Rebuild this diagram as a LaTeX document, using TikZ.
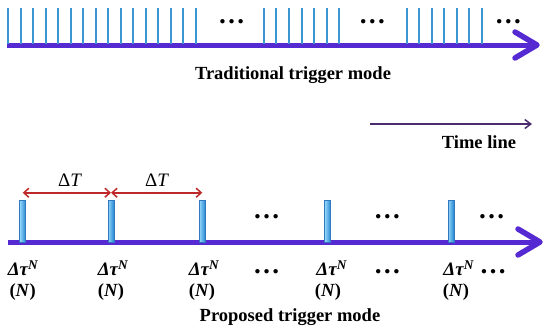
\documentclass[tikz,border=0pt]{standalone}
\usepackage{fontspec}
\setmainfont{Liberation Serif}
\usetikzlibrary{arrows.meta,calc}
\definecolor{axiscol}{RGB}{85,42,210}
\definecolor{spikecol}{RGB}{60,150,210}
\definecolor{barlight}{RGB}{150,215,250}
\definecolor{bardark}{RGB}{35,135,210}
\definecolor{barline}{RGB}{50,120,190}
\definecolor{redcol}{RGB}{190,40,40}
\definecolor{tlcol}{RGB}{75,45,110}
\tikzset{
  axisline/.style={axiscol, line width=5pt},
  axishead/.style={axiscol, line width=5.5pt, line cap=round, line join=round},
  spike/.style={spikecol, line width=2pt},
  bar/.style={draw=barline, line width=0.5pt, left color=barlight, right color=bardark,
              minimum width=6pt, minimum height=42pt, inner sep=0pt},
  dT/.style={redcol, line width=1.5pt, {Straight Barb[length=5pt,width=9pt]}-{Straight Barb[length=5pt,width=9pt]}},
  lbl/.style={font=\fontsize{18.5}{22}\selectfont\bfseries, inner sep=0pt},
  dts/.style={font=\fontsize{19}{22}\selectfont, inner sep=0pt},
  dots/.style={font=\fontsize{27}{28}\selectfont\bfseries, inner sep=0pt},
  tau/.style={font=\fontsize{19}{22}\selectfont\bfseries\itshape, inner sep=0pt},
}
\begin{document}
\begin{tikzpicture}[x=1pt,y=-1pt]
\useasboundingbox (0,0) rectangle (550,335);
% ---------- traditional ----------
\coordinate (t0) at (7,45);
\coordinate (t1) at (537,45);
\draw[axisline] (t0) -- ($(t1)+(-3,0)$);
\draw[axishead] ($(t1)+(-22,-13)$) -- (t1) -- ($(t1)+(-22,13)$);
\foreach \x in {8.3,20.8,...,197} \draw[spike] (\x,8) -- (\x,44);
\foreach \x in {263.7,276.3,...,340} \draw[spike] (\x,8) -- (\x,44);
\foreach \x in {406.7,419.2,...,483} \draw[spike] (\x,8) -- (\x,44);
\node[dots] (d1) at (231.7,22) {…};
\node[dots] (d2) at (372.3,22) {…};
\node[dots] (d3) at (508.3,22) {…};
\node[lbl] (trad) at (293,75) {Traditional trigger mode};
% ---------- time line ----------
\coordinate (tl0) at (370,124);
\coordinate (tl1) at (532,124);
\draw[tlcol, line width=1.5pt, -{Straight Barb[length=6pt,width=9pt]}] (tl0) -- (tl1);
\node[lbl] (tlt) at (479,142) {Time line};
% ---------- proposed ----------
\coordinate (p0) at (8,242);
\coordinate (p1) at (540,242);
\draw[axisline] (p0) -- ($(p1)+(-3,0)$);
\draw[axishead] ($(p1)+(-22,-13)$) -- (p1) -- ($(p1)+(-22,13)$);
\node[bar] (b1) at (22.7,221) {};
\node[bar] (b2) at (111,221) {};
\node[bar] (b3) at (202.3,221) {};
\node[bar] (b4) at (327.7,221) {};
\node[bar] (b5) at (451,221) {};
\draw[dT] ([yshift=7pt]b1.north) -- ([yshift=7pt]b2.north);
\draw[dT] ([yshift=7pt]b2.north) -- ([yshift=7pt]b3.north);
\node[dts] (T1) at (70,180) {Δ\textit{T}};
\node[dts] (T2) at (157,180) {Δ\textit{T}};
\node[dots] (u1) at (266.7,217) {…};
\node[dots] (u2) at (387.3,217) {…};
\node[dots] (u3) at (491.7,217) {…};
\node[dots] (v1) at (266.7,272) {…};
\node[dots] (v2) at (387.3,272) {…};
\node[dots] (v3) at (493,272) {…};
\foreach \i/\x in {1/23,2/113,3/204,4/331.7,5/458.7}{
  \node[tau] (tau\i) at (\x,268) {Δτ\textsuperscript{N}};
}
\foreach \i/\x in {1/22.7,2/111,3/202,4/328,5/456}{
  \node[lbl] (n\i) at (\x,292) {(\textit{N})};
}
\node[lbl] (prop) at (290,317) {Proposed trigger mode};
\end{tikzpicture}
\end{document}
